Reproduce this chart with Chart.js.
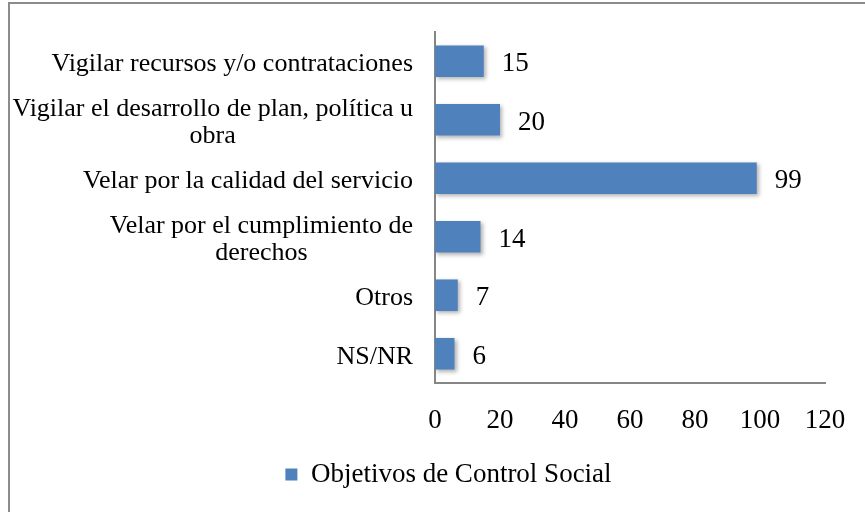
<!DOCTYPE html>
<html>
<head>
<meta charset="utf-8">
<script src="https://cdn.jsdelivr.net/npm/chart.js@4"></script>
<style>
  html, body { margin: 0; padding: 0; background: #fff; }
  #wrap { position: relative; width: 865px; height: 512px; overflow: hidden; }
  #frame { position: absolute; left: 8px; top: 2px; width: 900px; height: 600px; border: 2px solid #8c8c8c; }
  #chart { position: absolute; left: 0; top: 0; }
</style>
</head>
<body>
<div id="wrap">
  <div id="frame"></div>
  <canvas id="chart" width="865" height="512"></canvas>
</div>
<script>
// datos del grafico
const categories = [
    'Vigilar recursos y/o contrataciones',
    ['Vigilar el desarrollo de plan, política u', 'obra'],
    'Velar por la calidad del servicio',
    ['Velar por el cumplimiento de ', 'derechos'],
    'Otros',
    'NS/NR'
];
const values = [15, 20, 99, 14, 7, 6];
const xTicks = [0, 20, 40, 60, 80, 100, 120];
const seriesName = 'Objetivos de Control Social';

const FONT = '"Liberation Serif", "Times New Roman", serif';
const axisColor = '#868686';

// etiquetas de categoria centradas por bloque
const categoryLabels = {
    id: 'categoryLabels',
    afterDraw(chart) {
        const ctx = chart.ctx;
        const yScale = chart.scales.y;
        const rightEdge = 413;
        const lineH = 27;
        ctx.save();
        ctx.font = '26px ' + FONT;
        ctx.fillStyle = '#000';
        ctx.textBaseline = 'middle';
        ctx.textAlign = 'center';
        categories.forEach(function(label, i) {
            const lines = Array.isArray(label) ? label : [label];
            const maxW = Math.max.apply(null, lines.map(l => ctx.measureText(l.trim()).width));
            const cx = rightEdge - maxW / 2;
            const cy = yScale.getPixelForValue(i) + 3;
            const startY = cy - (lines.length - 1) * lineH / 2;
            lines.forEach(function(l, j) {
                ctx.fillText(l.trim(), cx, startY + j * lineH);
            });
        });
        ctx.restore();
    }
};

// sombra de barras + valores
const barExtras = {
    id: 'barExtras',
    beforeDatasetsDraw(chart) {
        const ctx = chart.ctx;
        ctx.save();
        ctx.shadowColor = 'rgba(0, 0, 0, 0.3)';
        ctx.shadowBlur = 4;
        ctx.shadowOffsetX = 2;
        ctx.shadowOffsetY = 2;
    },
    afterDatasetsDraw(chart) {
        const ctx = chart.ctx;
        ctx.restore();
        const meta = chart.getDatasetMeta(0);
        ctx.save();
        ctx.font = '27px ' + FONT;
        ctx.fillStyle = '#000';
        ctx.textBaseline = 'middle';
        ctx.textAlign = 'left';
        meta.data.forEach(function(bar, i) {
            ctx.fillText(String(values[i]), bar.x + 18, bar.y + 3);
        });
        ctx.restore();
    },
    afterLayout(chart) {
        chart.legend.left += 36;
        chart.legend.right += 36;
    }
};

const ctx = document.getElementById('chart');

new Chart(ctx, {
    type: 'bar',
    data: {
        labels: categories,
        datasets: [{
            label: seriesName,
            data: values,
            backgroundColor: '#4F81BD',
            borderWidth: 0,
            categoryPercentage: 1,
            barPercentage: 0.54
        }]
    },
    options: {
        indexAxis: 'y',
        responsive: false,
        animation: false,
        layout: {
            padding: { top: 32, right: 40, bottom: 14, left: 0 }
        },
        scales: {
            x: {
                min: 0,
                max: 120,
                afterBuildTicks: function(scale) {
                    scale.ticks = xTicks.map(v => ({ value: v }));
                },
                afterFit: function(scale) {
                    scale.height = 68;
                    scale.paddingLeft = 0;
                    scale.paddingRight = 0;
                },
                grid: { display: false, drawTicks: false },
                border: { display: true, color: axisColor, width: 2 },
                ticks: {
                    padding: 22,
                    color: '#000',
                    font: { family: FONT, size: 27 }
                }
            },
            y: {
                afterFit: function(scale) {
                    scale.width = 435;
                },
                grid: { display: false, drawTicks: false },
                border: { display: true, color: axisColor, width: 2 },
                ticks: { display: false }
            }
        },
        plugins: {
            legend: {
                display: true,
                position: 'bottom',
                labels: {
                    boxWidth: 12,
                    boxHeight: 12,
                    padding: 10,
                    color: '#000',
                    font: { family: FONT, size: 27 }
                }
            },
            tooltip: { enabled: false }
        }
    },
    plugins: [categoryLabels, barExtras]
});
</script>
</body>
</html>
